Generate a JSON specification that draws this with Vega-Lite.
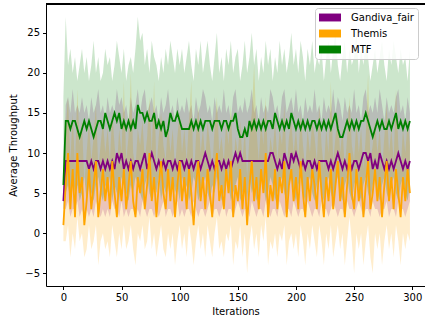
{
"$schema":"https://vega.github.io/schema/vega-lite/v6.json",
"width":379,"height":282,
"autosize":{"type":"none"},
"padding":{"left":46,"top":4,"right":0,"bottom":40},
"background":"white",
"config":{
"view":{"stroke":null},
"font":"DejaVu Sans",
"axis":{"grid":false,"domainColor":"black","tickColor":"black","tickSize":3.5,"labelFont":"DejaVu Sans","labelFontSize":10,"labelColor":"black","titleFont":"DejaVu Sans","titleFontSize":10,"titleFontWeight":"normal","titleColor":"black","labelPadding":3}
},
"data":{"values":[
{"x":0,"g":4,"gl":3,"gh":6,"t":1,"tl":-1,"th":3,"m":6,"ml":3,"mh":17},
{"x":2,"g":9,"gl":3,"gh":16,"t":6,"tl":-1,"th":13,"m":14,"ml":5,"mh":27},
{"x":4,"g":9,"gl":4,"gh":17,"t":10,"tl":1,"th":17,"m":14,"ml":6,"mh":21},
{"x":6,"g":9,"gl":2,"gh":15,"t":3,"tl":-3,"th":9,"m":13,"ml":4,"mh":23},
{"x":8,"g":9,"gl":3,"gh":18,"t":8,"tl":0,"th":15,"m":14,"ml":7,"mh":20},
{"x":10,"g":9,"gl":3,"gh":15,"t":2,"tl":-2,"th":8,"m":14,"ml":5,"mh":22},
{"x":12,"g":9,"gl":4,"gh":16,"t":10,"tl":2,"th":18,"m":13,"ml":6,"mh":19},
{"x":14,"g":9,"gl":2,"gh":15,"t":5,"tl":-1,"th":11,"m":12,"ml":4,"mh":21},
{"x":16,"g":9,"gl":3,"gh":17,"t":7,"tl":0,"th":14,"m":13,"ml":5,"mh":23},
{"x":18,"g":9,"gl":2,"gh":15,"t":1,"tl":-3,"th":6,"m":14,"ml":7,"mh":20},
{"x":20,"g":9,"gl":3,"gh":16,"t":4,"tl":-2,"th":10,"m":13,"ml":4,"mh":22},
{"x":22,"g":8,"gl":2,"gh":14,"t":8,"tl":1,"th":14,"m":14,"ml":6,"mh":19},
{"x":24,"g":9,"gl":3,"gh":17,"t":3,"tl":-2,"th":9,"m":13,"ml":5,"mh":21},
{"x":26,"g":8,"gl":2,"gh":15,"t":6,"tl":-1,"th":12,"m":12,"ml":4,"mh":24},
{"x":28,"g":9,"gl":4,"gh":16,"t":9,"tl":1,"th":16,"m":13,"ml":6,"mh":20},
{"x":30,"g":9,"gl":3,"gh":18,"t":2,"tl":-4,"th":8,"m":14,"ml":7,"mh":22},
{"x":32,"g":8,"gl":2,"gh":15,"t":5,"tl":-1,"th":11,"m":14,"ml":5,"mh":19},
{"x":34,"g":9,"gl":3,"gh":16,"t":8,"tl":0,"th":14,"m":13,"ml":4,"mh":20},
{"x":36,"g":8,"gl":2,"gh":14,"t":4,"tl":-2,"th":10,"m":15,"ml":6,"mh":23},
{"x":38,"g":9,"gl":3,"gh":17,"t":7,"tl":-1,"th":13,"m":14,"ml":5,"mh":21},
{"x":40,"g":8,"gl":2,"gh":15,"t":3,"tl":-3,"th":9,"m":13,"ml":7,"mh":22},
{"x":42,"g":9,"gl":4,"gh":16,"t":9,"tl":1,"th":15,"m":14,"ml":4,"mh":19},
{"x":44,"g":8,"gl":3,"gh":15,"t":5,"tl":-1,"th":11,"m":15,"ml":6,"mh":21},
{"x":46,"g":10,"gl":3,"gh":18,"t":2,"tl":-3,"th":8,"m":14,"ml":5,"mh":24},
{"x":48,"g":9,"gl":2,"gh":16,"t":7,"tl":0,"th":13,"m":15,"ml":4,"mh":22},
{"x":50,"g":10,"gl":4,"gh":17,"t":4,"tl":-2,"th":10,"m":13,"ml":7,"mh":20},
{"x":52,"g":8,"gl":2,"gh":15,"t":8,"tl":1,"th":19,"m":14,"ml":6,"mh":23},
{"x":54,"g":9,"gl":3,"gh":16,"t":3,"tl":-2,"th":9,"m":13,"ml":5,"mh":19},
{"x":56,"g":8,"gl":2,"gh":14,"t":6,"tl":-1,"th":12,"m":14,"ml":4,"mh":21},
{"x":58,"g":9,"gl":3,"gh":17,"t":9,"tl":1,"th":20,"m":13,"ml":6,"mh":22},
{"x":60,"g":8,"gl":3,"gh":15,"t":4,"tl":-2,"th":10,"m":14,"ml":5,"mh":20},
{"x":62,"g":9,"gl":2,"gh":16,"t":2,"tl":-4,"th":8,"m":13,"ml":7,"mh":23},
{"x":64,"g":9,"gl":3,"gh":18,"t":7,"tl":0,"th":13,"m":16,"ml":6,"mh":27},
{"x":66,"g":8,"gl":2,"gh":15,"t":5,"tl":-1,"th":11,"m":15,"ml":5,"mh":24},
{"x":68,"g":9,"gl":4,"gh":17,"t":8,"tl":1,"th":14,"m":15,"ml":4,"mh":25},
{"x":70,"g":10,"gl":3,"gh":18,"t":3,"tl":-2,"th":9,"m":14,"ml":6,"mh":21},
{"x":72,"g":8,"gl":2,"gh":15,"t":6,"tl":-1,"th":12,"m":15,"ml":7,"mh":23},
{"x":74,"g":9,"gl":3,"gh":16,"t":10,"tl":2,"th":17,"m":14,"ml":5,"mh":20},
{"x":76,"g":10,"gl":3,"gh":17,"t":4,"tl":-2,"th":10,"m":14,"ml":4,"mh":24},
{"x":78,"g":9,"gl":2,"gh":15,"t":7,"tl":0,"th":19,"m":15,"ml":6,"mh":22},
{"x":80,"g":8,"gl":3,"gh":16,"t":2,"tl":-3,"th":8,"m":13,"ml":5,"mh":21},
{"x":82,"g":9,"gl":2,"gh":14,"t":6,"tl":-1,"th":12,"m":14,"ml":7,"mh":19},
{"x":84,"g":8,"gl":3,"gh":17,"t":9,"tl":1,"th":15,"m":13,"ml":4,"mh":22},
{"x":86,"g":9,"gl":4,"gh":15,"t":5,"tl":-2,"th":11,"m":14,"ml":6,"mh":20},
{"x":88,"g":8,"gl":2,"gh":16,"t":3,"tl":-3,"th":9,"m":12,"ml":5,"mh":23},
{"x":90,"g":9,"gl":3,"gh":18,"t":8,"tl":0,"th":14,"m":13,"ml":6,"mh":21},
{"x":92,"g":9,"gl":3,"gh":15,"t":4,"tl":-2,"th":10,"m":15,"ml":4,"mh":24},
{"x":94,"g":8,"gl":2,"gh":16,"t":7,"tl":0,"th":13,"m":14,"ml":7,"mh":22},
{"x":96,"g":9,"gl":3,"gh":14,"t":2,"tl":-4,"th":8,"m":14,"ml":5,"mh":20},
{"x":98,"g":8,"gl":4,"gh":17,"t":6,"tl":-1,"th":12,"m":15,"ml":6,"mh":23},
{"x":100,"g":9,"gl":2,"gh":15,"t":9,"tl":1,"th":15,"m":14,"ml":4,"mh":21},
{"x":102,"g":9,"gl":3,"gh":16,"t":4,"tl":-2,"th":10,"m":13,"ml":7,"mh":23},
{"x":104,"g":8,"gl":2,"gh":15,"t":7,"tl":0,"th":13,"m":13,"ml":5,"mh":20},
{"x":106,"g":9,"gl":3,"gh":17,"t":3,"tl":-3,"th":9,"m":13,"ml":6,"mh":22},
{"x":108,"g":8,"gl":3,"gh":15,"t":8,"tl":1,"th":14,"m":13,"ml":4,"mh":24},
{"x":110,"g":9,"gl":2,"gh":16,"t":5,"tl":-1,"th":19,"m":14,"ml":5,"mh":21},
{"x":112,"g":8,"gl":4,"gh":14,"t":1,"tl":-4,"th":6,"m":13,"ml":7,"mh":19},
{"x":114,"g":9,"gl":3,"gh":17,"t":6,"tl":-1,"th":12,"m":14,"ml":6,"mh":23},
{"x":116,"g":9,"gl":2,"gh":15,"t":9,"tl":1,"th":16,"m":13,"ml":4,"mh":21},
{"x":118,"g":8,"gl":3,"gh":16,"t":4,"tl":-2,"th":10,"m":14,"ml":5,"mh":24},
{"x":120,"g":9,"gl":3,"gh":18,"t":7,"tl":0,"th":13,"m":13,"ml":6,"mh":20},
{"x":122,"g":10,"gl":2,"gh":17,"t":3,"tl":-3,"th":9,"m":14,"ml":7,"mh":22},
{"x":124,"g":9,"gl":3,"gh":15,"t":8,"tl":1,"th":14,"m":14,"ml":5,"mh":24},
{"x":126,"g":8,"gl":4,"gh":16,"t":5,"tl":-1,"th":11,"m":14,"ml":4,"mh":21},
{"x":128,"g":9,"gl":2,"gh":14,"t":2,"tl":-3,"th":8,"m":13,"ml":6,"mh":19},
{"x":130,"g":8,"gl":3,"gh":17,"t":7,"tl":0,"th":13,"m":14,"ml":5,"mh":22},
{"x":132,"g":9,"gl":3,"gh":15,"t":10,"tl":2,"th":17,"m":14,"ml":7,"mh":25},
{"x":134,"g":9,"gl":2,"gh":16,"t":4,"tl":-2,"th":10,"m":14,"ml":6,"mh":20},
{"x":136,"g":8,"gl":3,"gh":15,"t":6,"tl":-1,"th":12,"m":13,"ml":4,"mh":22},
{"x":138,"g":9,"gl":4,"gh":18,"t":3,"tl":-3,"th":9,"m":14,"ml":5,"mh":19},
{"x":140,"g":8,"gl":2,"gh":15,"t":8,"tl":0,"th":14,"m":14,"ml":7,"mh":23},
{"x":142,"g":9,"gl":3,"gh":16,"t":5,"tl":-1,"th":11,"m":13,"ml":6,"mh":21},
{"x":144,"g":8,"gl":3,"gh":14,"t":9,"tl":1,"th":16,"m":14,"ml":4,"mh":24},
{"x":146,"g":9,"gl":2,"gh":17,"t":2,"tl":-4,"th":8,"m":14,"ml":5,"mh":20},
{"x":148,"g":10,"gl":3,"gh":18,"t":6,"tl":-1,"th":12,"m":15,"ml":6,"mh":22},
{"x":150,"g":9,"gl":4,"gh":15,"t":4,"tl":-2,"th":10,"m":13,"ml":7,"mh":23},
{"x":152,"g":10,"gl":3,"gh":16,"t":8,"tl":1,"th":14,"m":12,"ml":4,"mh":19},
{"x":154,"g":9,"gl":2,"gh":15,"t":3,"tl":-3,"th":9,"m":12,"ml":5,"mh":21},
{"x":156,"g":9,"gl":3,"gh":17,"t":7,"tl":0,"th":13,"m":13,"ml":6,"mh":24},
{"x":158,"g":9,"gl":3,"gh":15,"t":1,"tl":-5,"th":7,"m":12,"ml":4,"mh":20},
{"x":160,"g":9,"gl":2,"gh":16,"t":6,"tl":-1,"th":12,"m":14,"ml":7,"mh":22},
{"x":162,"g":9,"gl":4,"gh":18,"t":9,"tl":1,"th":15,"m":13,"ml":5,"mh":25},
{"x":164,"g":9,"gl":3,"gh":15,"t":4,"tl":-2,"th":21,"m":14,"ml":6,"mh":21},
{"x":166,"g":9,"gl":2,"gh":16,"t":7,"tl":0,"th":13,"m":13,"ml":4,"mh":23},
{"x":168,"g":9,"gl":3,"gh":14,"t":3,"tl":-3,"th":9,"m":14,"ml":5,"mh":19},
{"x":170,"g":9,"gl":3,"gh":17,"t":8,"tl":1,"th":14,"m":13,"ml":7,"mh":22},
{"x":172,"g":9,"gl":2,"gh":15,"t":5,"tl":-1,"th":11,"m":14,"ml":6,"mh":20},
{"x":174,"g":9,"gl":4,"gh":16,"t":10,"tl":2,"th":17,"m":13,"ml":4,"mh":24},
{"x":176,"g":9,"gl":3,"gh":15,"t":2,"tl":-4,"th":8,"m":14,"ml":5,"mh":21},
{"x":178,"g":10,"gl":2,"gh":18,"t":6,"tl":-1,"th":12,"m":14,"ml":7,"mh":23},
{"x":180,"g":10,"gl":3,"gh":17,"t":4,"tl":-2,"th":10,"m":13,"ml":6,"mh":19},
{"x":182,"g":9,"gl":3,"gh":15,"t":8,"tl":0,"th":14,"m":15,"ml":4,"mh":22},
{"x":184,"g":8,"gl":2,"gh":16,"t":3,"tl":-3,"th":9,"m":14,"ml":5,"mh":20},
{"x":186,"g":9,"gl":4,"gh":14,"t":7,"tl":0,"th":13,"m":13,"ml":6,"mh":24},
{"x":188,"g":8,"gl":3,"gh":17,"t":5,"tl":-1,"th":11,"m":14,"ml":7,"mh":21},
{"x":190,"g":10,"gl":2,"gh":18,"t":9,"tl":1,"th":16,"m":13,"ml":5,"mh":23},
{"x":192,"g":9,"gl":3,"gh":15,"t":2,"tl":-4,"th":8,"m":14,"ml":4,"mh":20},
{"x":194,"g":8,"gl":3,"gh":16,"t":6,"tl":-1,"th":12,"m":13,"ml":6,"mh":22},
{"x":196,"g":10,"gl":2,"gh":17,"t":8,"tl":0,"th":14,"m":15,"ml":7,"mh":25},
{"x":198,"g":9,"gl":4,"gh":15,"t":4,"tl":-2,"th":10,"m":14,"ml":5,"mh":21},
{"x":200,"g":10,"gl":3,"gh":18,"t":7,"tl":0,"th":13,"m":13,"ml":4,"mh":23},
{"x":202,"g":9,"gl":2,"gh":15,"t":3,"tl":-3,"th":9,"m":14,"ml":6,"mh":20},
{"x":204,"g":8,"gl":3,"gh":16,"t":9,"tl":1,"th":15,"m":13,"ml":7,"mh":24},
{"x":206,"g":9,"gl":3,"gh":14,"t":5,"tl":-1,"th":11,"m":14,"ml":5,"mh":22},
{"x":208,"g":8,"gl":2,"gh":17,"t":2,"tl":-4,"th":8,"m":13,"ml":4,"mh":19},
{"x":210,"g":9,"gl":4,"gh":15,"t":7,"tl":0,"th":13,"m":14,"ml":6,"mh":23},
{"x":212,"g":9,"gl":3,"gh":16,"t":4,"tl":-2,"th":10,"m":13,"ml":7,"mh":21},
{"x":214,"g":8,"gl":2,"gh":15,"t":8,"tl":1,"th":14,"m":14,"ml":5,"mh":24},
{"x":216,"g":9,"gl":3,"gh":18,"t":6,"tl":-1,"th":12,"m":14,"ml":4,"mh":20},
{"x":218,"g":8,"gl":3,"gh":15,"t":3,"tl":-3,"th":9,"m":13,"ml":6,"mh":22},
{"x":220,"g":9,"gl":2,"gh":16,"t":9,"tl":1,"th":16,"m":14,"ml":7,"mh":21},
{"x":222,"g":9,"gl":4,"gh":14,"t":5,"tl":-1,"th":11,"m":13,"ml":5,"mh":23},
{"x":224,"g":9,"gl":3,"gh":17,"t":2,"tl":-4,"th":8,"m":14,"ml":4,"mh":19},
{"x":226,"g":9,"gl":3,"gh":15,"t":7,"tl":0,"th":13,"m":13,"ml":6,"mh":22},
{"x":228,"g":8,"gl":2,"gh":16,"t":4,"tl":-2,"th":10,"m":14,"ml":7,"mh":24},
{"x":230,"g":9,"gl":3,"gh":15,"t":8,"tl":1,"th":19,"m":13,"ml":5,"mh":20},
{"x":232,"g":8,"gl":4,"gh":18,"t":3,"tl":-3,"th":9,"m":14,"ml":4,"mh":23},
{"x":234,"g":9,"gl":3,"gh":15,"t":6,"tl":-1,"th":12,"m":15,"ml":6,"mh":25},
{"x":236,"g":10,"gl":2,"gh":17,"t":9,"tl":1,"th":15,"m":13,"ml":7,"mh":21},
{"x":238,"g":9,"gl":3,"gh":16,"t":4,"tl":-2,"th":10,"m":12,"ml":5,"mh":19},
{"x":240,"g":8,"gl":3,"gh":14,"t":7,"tl":0,"th":13,"m":12,"ml":4,"mh":22},
{"x":242,"g":9,"gl":2,"gh":17,"t":2,"tl":-4,"th":8,"m":13,"ml":6,"mh":24},
{"x":244,"g":8,"gl":4,"gh":15,"t":6,"tl":-1,"th":12,"m":14,"ml":7,"mh":20},
{"x":246,"g":9,"gl":3,"gh":16,"t":10,"tl":2,"th":17,"m":13,"ml":5,"mh":23},
{"x":248,"g":8,"gl":3,"gh":15,"t":5,"tl":-1,"th":11,"m":14,"ml":4,"mh":21},
{"x":250,"g":9,"gl":2,"gh":18,"t":3,"tl":-5,"th":9,"m":13,"ml":6,"mh":22},
{"x":252,"g":9,"gl":3,"gh":15,"t":8,"tl":0,"th":14,"m":14,"ml":7,"mh":25},
{"x":254,"g":8,"gl":4,"gh":16,"t":4,"tl":-2,"th":10,"m":13,"ml":5,"mh":20},
{"x":256,"g":9,"gl":3,"gh":14,"t":7,"tl":0,"th":13,"m":14,"ml":4,"mh":23},
{"x":258,"g":10,"gl":2,"gh":17,"t":2,"tl":-4,"th":8,"m":14,"ml":6,"mh":21},
{"x":260,"g":10,"gl":3,"gh":18,"t":6,"tl":-1,"th":12,"m":15,"ml":7,"mh":24},
{"x":262,"g":9,"gl":3,"gh":15,"t":9,"tl":1,"th":20,"m":14,"ml":5,"mh":22},
{"x":264,"g":10,"gl":2,"gh":16,"t":3,"tl":-3,"th":9,"m":13,"ml":4,"mh":19},
{"x":266,"g":8,"gl":4,"gh":15,"t":5,"tl":-5,"th":11,"m":12,"ml":6,"mh":21},
{"x":268,"g":9,"gl":3,"gh":17,"t":8,"tl":0,"th":14,"m":13,"ml":7,"mh":23},
{"x":270,"g":8,"gl":3,"gh":15,"t":4,"tl":-2,"th":10,"m":14,"ml":5,"mh":20},
{"x":272,"g":10,"gl":2,"gh":18,"t":7,"tl":0,"th":13,"m":13,"ml":4,"mh":22},
{"x":274,"g":9,"gl":3,"gh":16,"t":2,"tl":-4,"th":8,"m":14,"ml":6,"mh":24},
{"x":276,"g":8,"gl":3,"gh":14,"t":6,"tl":-1,"th":12,"m":13,"ml":7,"mh":21},
{"x":278,"g":9,"gl":4,"gh":17,"t":9,"tl":1,"th":16,"m":13,"ml":5,"mh":19},
{"x":280,"g":8,"gl":2,"gh":15,"t":4,"tl":-2,"th":10,"m":14,"ml":4,"mh":23},
{"x":282,"g":9,"gl":3,"gh":16,"t":7,"tl":0,"th":13,"m":13,"ml":6,"mh":21},
{"x":284,"g":8,"gl":3,"gh":15,"t":3,"tl":-3,"th":9,"m":14,"ml":7,"mh":24},
{"x":286,"g":9,"gl":2,"gh":17,"t":8,"tl":1,"th":18,"m":15,"ml":5,"mh":22},
{"x":288,"g":10,"gl":4,"gh":18,"t":5,"tl":-1,"th":11,"m":13,"ml":4,"mh":20},
{"x":290,"g":9,"gl":3,"gh":15,"t":2,"tl":-4,"th":8,"m":14,"ml":6,"mh":23},
{"x":292,"g":8,"gl":3,"gh":16,"t":7,"tl":0,"th":13,"m":13,"ml":7,"mh":21},
{"x":294,"g":9,"gl":2,"gh":14,"t":4,"tl":-2,"th":10,"m":14,"ml":5,"mh":22},
{"x":296,"g":8,"gl":3,"gh":17,"t":8,"tl":0,"th":14,"m":13,"ml":4,"mh":19},
{"x":298,"g":9,"gl":4,"gh":15,"t":5,"tl":-1,"th":11,"m":14,"ml":6,"mh":23}
]},
"layer":[
{"mark":{"type":"area","fillOpacity":0.2},"encoding":{"x":{"field":"x","type":"quantitative","scale":{"domain":[-14.95,310.95],"nice":false,"zero":false},"axis":{"values":[0,50,100,150,200,250,300],"title":"Iterations","titlePadding":4}},"y":{"field":"gl","type":"quantitative","scale":{"domain":[-6.6,28.6],"nice":false,"zero":false},"axis":{"values":[-5,0,5,10,15,20,25],"title":"Average Throughput","titlePadding":6}},"y2":{"field":"gh"},"fill":{"datum":"Gandiva_fair","type":"nominal","scale":{"domain":["Gandiva_fair","Themis","MTF"],"range":["#800080","#FFA500","#008000"]},"legend":{"title":null,"orient":"none","legendX":269,"legendY":4,"padding":4,"fillColor":"rgba(255,255,255,0.85)","strokeColor":"#cccccc","cornerRadius":3,"symbolType":"M-1,-0.72H3V0.72H-1Z","symbolSize":121,"symbolOpacity":1,"symbolFillOpacity":1,"symbolStrokeWidth":0,"labelFont":"DejaVu Sans","labelFontSize":10,"labelColor":"black","labelOffset":21,"rowPadding":5,"encode":{"symbols":{"update":{"opacity":{"value":1},"fillOpacity":{"value":1}}}}}}}},
{"mark":{"type":"area","fillOpacity":0.2},"encoding":{"x":{"field":"x","type":"quantitative"},"y":{"field":"tl","type":"quantitative"},"y2":{"field":"th"},"fill":{"datum":"Themis","type":"nominal"}}},
{"mark":{"type":"area","fillOpacity":0.2},"encoding":{"x":{"field":"x","type":"quantitative"},"y":{"field":"ml","type":"quantitative"},"y2":{"field":"mh"},"fill":{"datum":"MTF","type":"nominal"}}},
{"mark":{"type":"line","color":"#800080","strokeWidth":1.8},"encoding":{"x":{"field":"x","type":"quantitative"},"y":{"field":"g","type":"quantitative"}}},
{"mark":{"type":"line","color":"#FFA500","strokeWidth":1.8},"encoding":{"x":{"field":"x","type":"quantitative"},"y":{"field":"t","type":"quantitative"}}},
{"mark":{"type":"line","color":"#008000","strokeWidth":1.8},"encoding":{"x":{"field":"x","type":"quantitative"},"y":{"field":"m","type":"quantitative"}}},
{"mark":{"type":"rule","color":"black","strokeWidth":1},"encoding":{"y":{"datum":28.6}}}
]
}
